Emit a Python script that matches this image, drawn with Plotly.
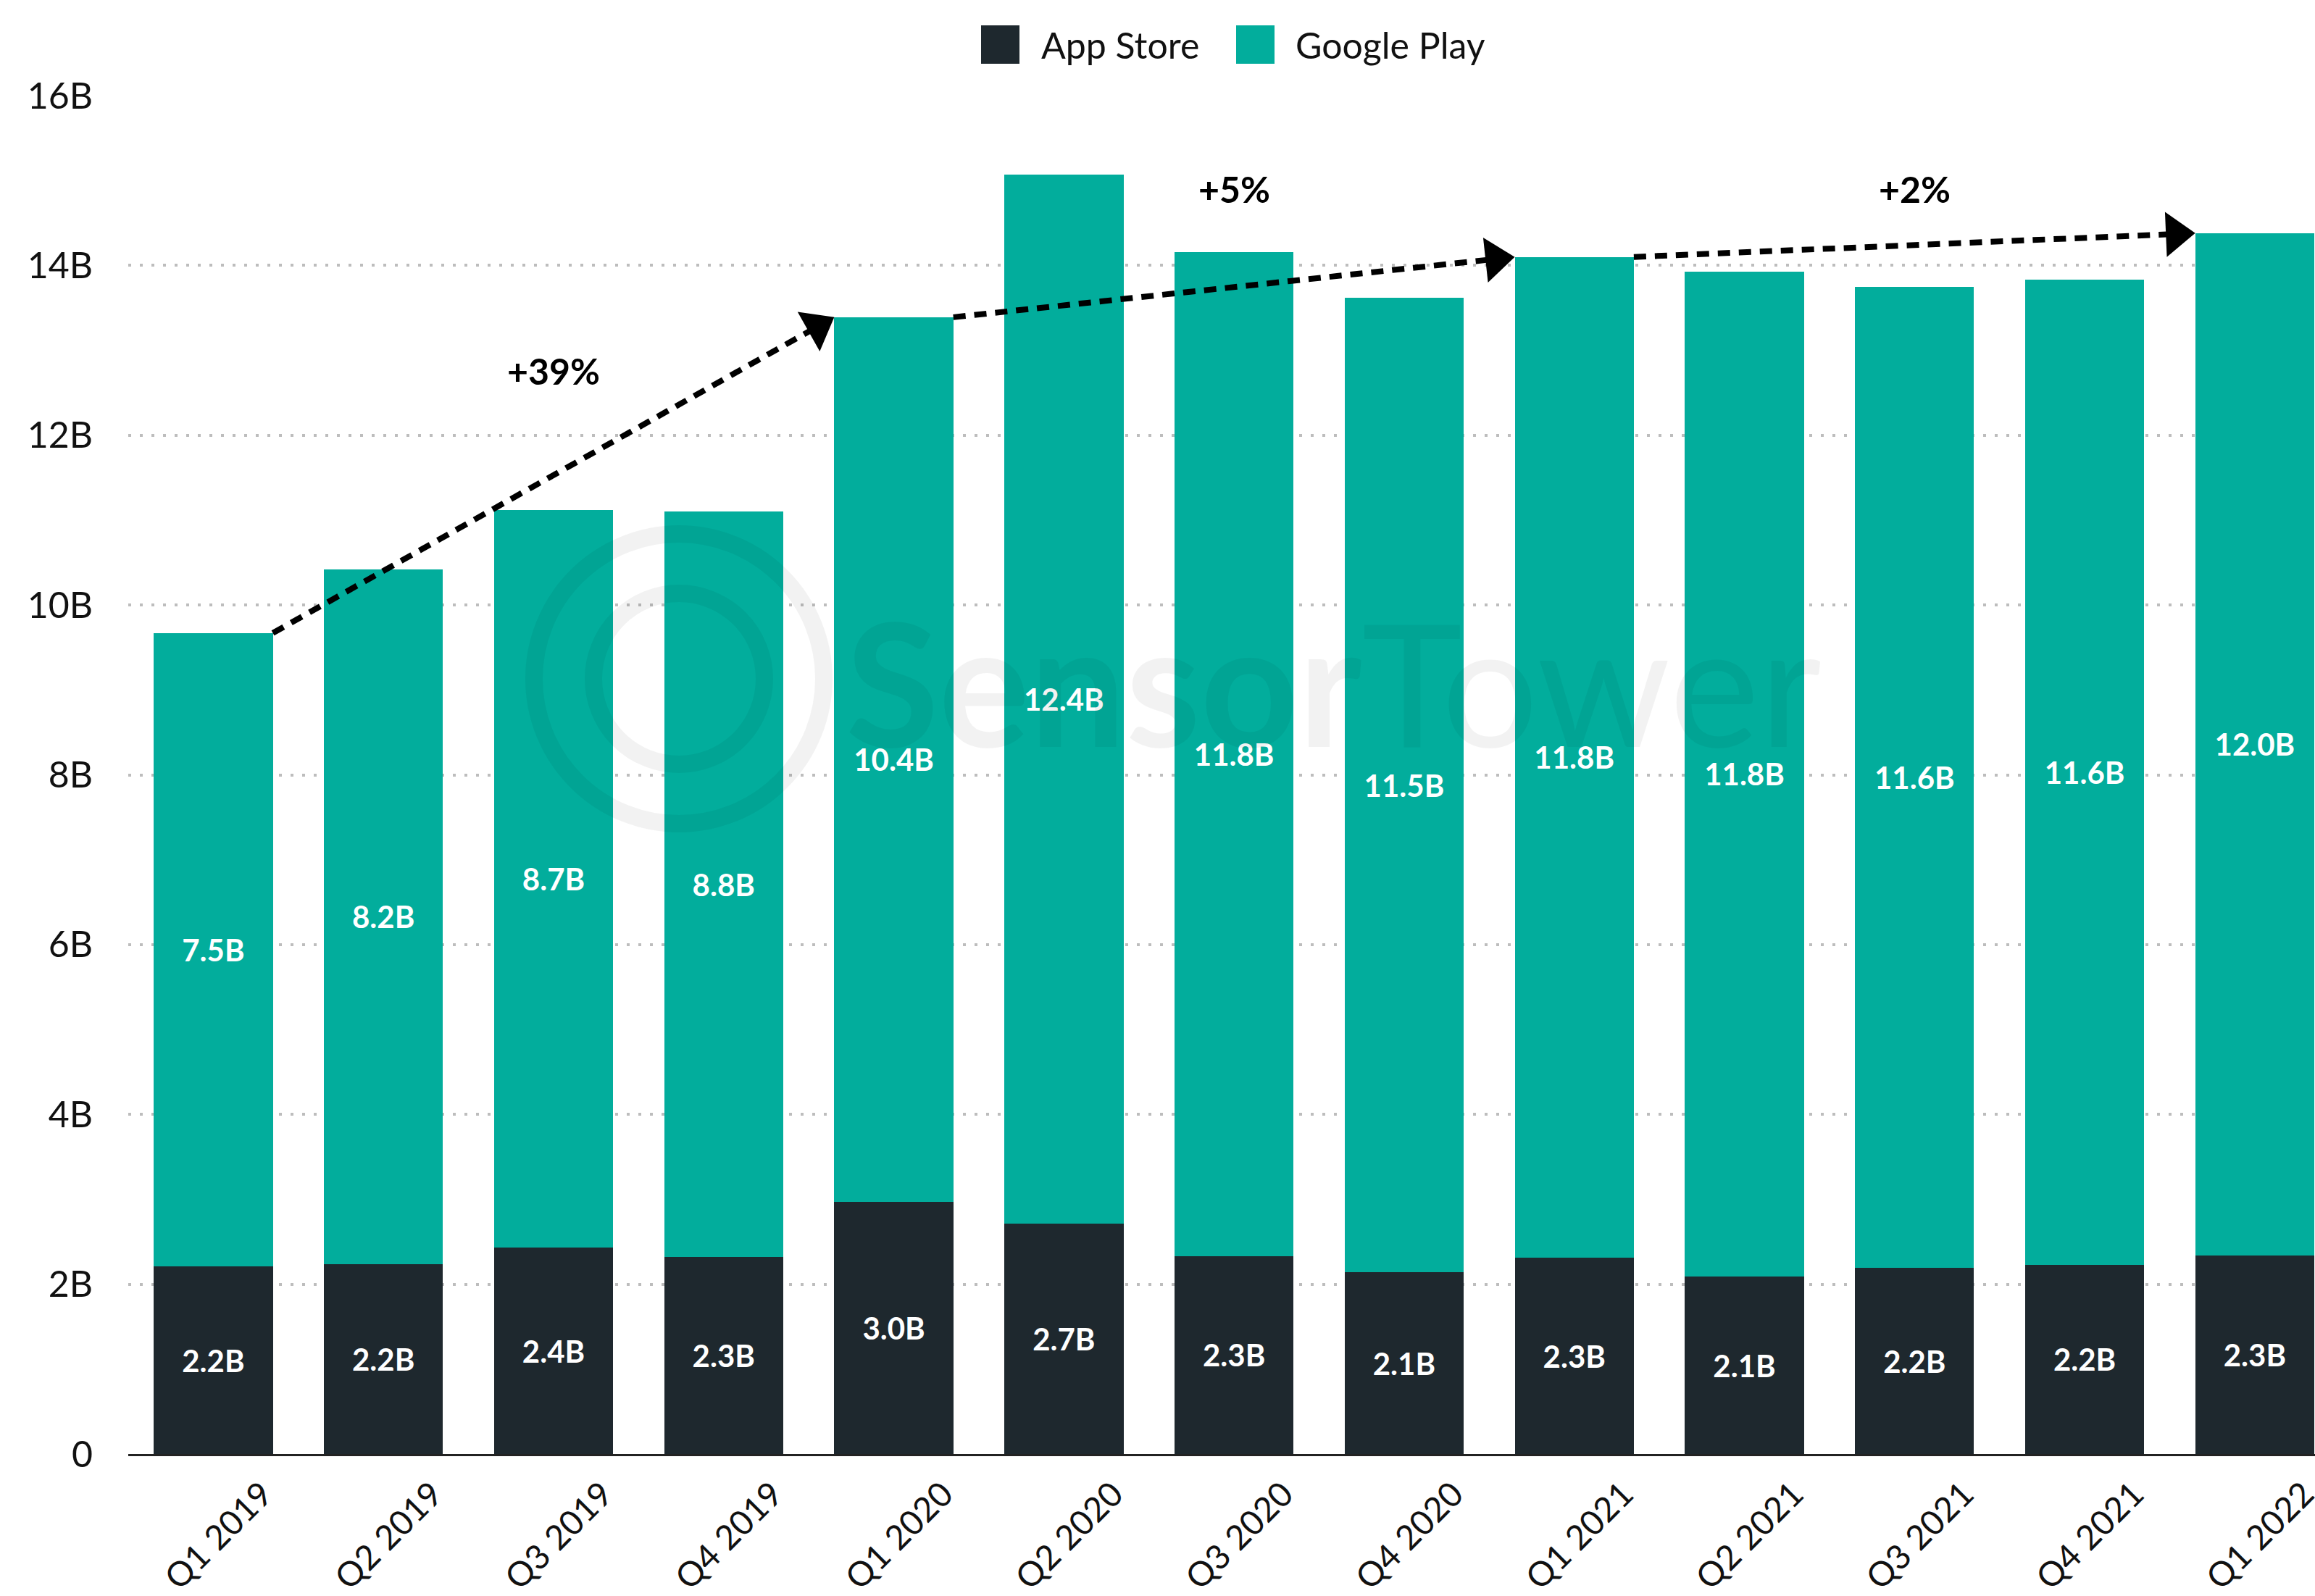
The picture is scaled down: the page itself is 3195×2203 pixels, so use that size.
import plotly.graph_objects as go

# ---------------- data ----------------
quarters = ["Q1 2019", "Q2 2019", "Q3 2019", "Q4 2019", "Q1 2020", "Q2 2020", "Q3 2020",
            "Q4 2020", "Q1 2021", "Q2 2021", "Q3 2021", "Q4 2021", "Q1 2022"]
app_store = [2.21, 2.24, 2.43, 2.32, 2.97, 2.71, 2.33, 2.14, 2.31, 2.09, 2.19, 2.23, 2.34]
google_play = [7.46, 8.18, 8.69, 8.78, 10.42, 12.36, 11.83, 11.48, 11.79, 11.84, 11.56, 11.60, 12.04]
growth_from = [0, 4, 8]
growth_to = [4, 8, 12]
growth_labels = ["+39%", "+5%", "+2%"]
growth_label_y = [12.76, 14.9, 14.9]
y_ticks = [0, 2, 4, 6, 8, 10, 12, 14, 16]
y_ticktext = ["0", "2B", "4B", "6B", "8B", "10B", "12B", "14B", "16B"]
series_names = ["App Store", "Google Play"]

# ---------------- style ----------------
C_APP = "#1e282e"
C_GP = "#02ad9c"
FONT = "Lato"
W, H = 3195, 2203
ML, MR, MT, MB = 177, 0, 132, 196
BARGAP = 0.3
X_RANGE = [-0.5, 12.354]
Y_RANGE = [0, 16]

plot_w = W - ML - MR
plot_h = H - MT - MB


def px_x(px):
    return (px - ML) / plot_w


def px_y(py):
    return (H - MB - py) / plot_h


xs = list(range(len(quarters)))
totals = [a + g for a, g in zip(app_store, google_play)]

fig = go.Figure()
fig.add_trace(go.Bar(
    x=xs, y=app_store, name=series_names[0], marker=dict(color=C_APP, line=dict(width=0)),
    texttemplate="%{y:.1f}B", textposition="inside", insidetextanchor="middle", textangle=0,
    textfont=dict(family=FONT, size=42, color="white", weight="bold"),
    showlegend=False, hoverinfo="skip"))
fig.add_trace(go.Bar(
    x=xs, y=google_play, name=series_names[1], marker=dict(color=C_GP, line=dict(width=0)),
    texttemplate="%{y:.1f}B", textposition="inside", insidetextanchor="middle", textangle=0,
    textfont=dict(family=FONT, size=42, color="white", weight="bold"),
    showlegend=False, hoverinfo="skip"))

half = (1 - BARGAP) / 2
for i, j in zip(growth_from, growth_to):
    fig.add_trace(go.Scatter(
        x=[i + half, j - half], y=[totals[i], totals[j]], mode="lines+markers",
        line=dict(color="black", width=8, dash="17px,12px"),
        marker=dict(symbol=["circle", "triangle-up"], size=[0, 54], color="black",
                    angleref="previous", standoff=[0, 27], line=dict(width=0), opacity=1),
        showlegend=False, hoverinfo="skip", cliponaxis=False))

annotations = []
for i, j, lab, ly in zip(growth_from, growth_to, growth_labels, growth_label_y):
    annotations.append(dict(x=(i + j) / 2, y=ly, xref="x", yref="y", text="<b>%s</b>" % lab,
                            showarrow=False, font=dict(family=FONT, size=50, color="black")))

# manual legend (large squares)
shapes = []
leg_sq = [(1354, 1407), (1706, 1759)]
leg_text_x = [1435, 1786]
for (x0, x1), tx, name, col in zip(leg_sq, leg_text_x, series_names, [C_APP, C_GP]):
    shapes.append(dict(type="rect", xref="paper", yref="paper", x0=px_x(x0), x1=px_x(x1),
                       y0=px_y(88), y1=px_y(35), fillcolor=col, line=dict(width=0)))
    annotations.append(dict(x=px_x(tx), y=px_y(62), xref="paper", yref="paper", text=name,
                            xanchor="left", yanchor="middle", showarrow=False,
                            font=dict(family=FONT, size=50, color="#111")))

# faint watermark
annotations.append(dict(x=px_x(1840), y=px_y(940), xref="paper", yref="paper",
                        text="<b>Sensor</b>Tower", showarrow=False,
                        font=dict(family=FONT, size=235, color="rgba(0,0,0,0.05)")))
for r in (200, 118):
    shapes.append(dict(type="circle", xref="paper", yref="paper", xsizemode="pixel",
                       ysizemode="pixel", xanchor=px_x(937), yanchor=px_y(937),
                       x0=-r, x1=r, y0=-r, y1=r, layer="above",
                       line=dict(color="rgba(0,0,0,0.05)", width=24)))

fig.update_layout(
    width=W, height=H, autosize=False,
    margin=dict(l=ML, r=MR, t=MT, b=MB, pad=0),
    barmode="stack", bargap=BARGAP,
    plot_bgcolor="white", paper_bgcolor="white",
    font=dict(family=FONT, size=50, color="#111"),
    showlegend=False,
    annotations=annotations, shapes=shapes,
    xaxis=dict(range=X_RANGE, tickvals=xs, ticktext=quarters, tickangle=-45,
               showgrid=False, zeroline=False, showline=True, linecolor="#222", linewidth=3,
               ticks="", tickfont=dict(family=FONT, size=47, color="#111"),
               ticklabelshift=68, ticklabelstandoff=6, ticklabeloverflow="allow",
               automargin=False),
    yaxis=dict(range=Y_RANGE, tickvals=y_ticks, ticktext=y_ticktext, showgrid=True,
               gridcolor="#bdbdbd", gridwidth=4, griddash="4px,12px", zeroline=False,
               showline=False, ticks="", tickfont=dict(family=FONT, size=50, color="#111"),
               ticklabelstandoff=48, automargin=False),
)

fig.write_html("out.html")
